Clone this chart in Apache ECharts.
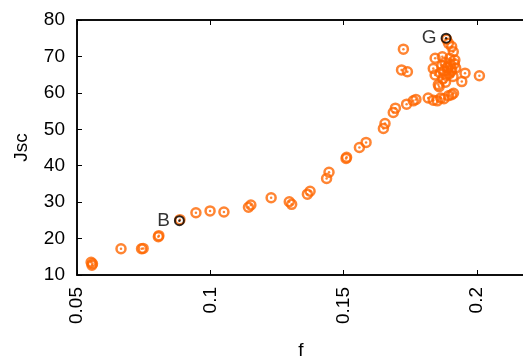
<!DOCTYPE html>
<html>
<head>
<meta charset="utf-8">
<script src="https://cdn.jsdelivr.net/npm/echarts@6/dist/echarts.min.js"></script>
<style>
html,body{margin:0;padding:0;background:#fff;}
#c{width:523px;height:360px;}
</style>
</head>
<body>
<div id="c"></div>
<script>
// f values and Jsc values for all samples (orange)
const fValues = [
  0.0553, 0.0556, 0.0558, 0.0665, 0.0742, 0.0748, 0.0805, 0.0807, 0.0886, 0.0946,
  0.0999, 0.1051, 0.1143, 0.1152, 0.1228, 0.1296, 0.1305, 0.1364, 0.1374, 0.1436,
  0.1445, 0.1509, 0.1511, 0.1559, 0.1584, 0.1649, 0.1655, 0.1686, 0.1694, 0.1736,
  0.1761, 0.1771, 0.1817, 0.1836, 0.1851, 0.1864, 0.1876, 0.1893, 0.1905, 0.1912,
  0.1855, 0.1858, 0.1724, 0.1717, 0.1739, 0.1886, 0.1893, 0.1905, 0.1911, 0.1843,
  0.1917, 0.1955, 0.2009, 0.1943, 0.1836, 0.1843, 0.1862, 0.1868, 0.1875, 0.1880,
  0.1885, 0.1890, 0.1895, 0.1900, 0.1905, 0.1910, 0.1915, 0.1920, 0.1872, 0.1882,
  0.1898, 0.1870, 0.1888, 0.1902
];
const jscValues = [
  13.5, 12.7, 13.1, 17.2, 17.2, 17.3, 20.5, 20.8, 25.2, 27.1,
  27.6, 27.3, 28.6, 29.2, 31.2, 30.1, 29.4, 32.2, 33.0, 36.5,
  38.2, 42.0, 42.3, 45.0, 46.4, 50.2, 51.6, 54.6, 55.8, 56.9,
  57.8, 58.2, 58.6, 58.0, 57.8, 58.6, 58.4, 59.2, 59.5, 59.9,
  62.2, 61.7, 72.0, 66.3, 65.8, 74.7, 73.6, 72.7, 71.3, 69.5,
  69.0, 65.4, 64.7, 63.1, 66.7, 64.9, 65.5, 67.5, 66.0, 68.3,
  64.8, 66.9, 65.2, 67.8, 66.3, 64.5, 68.0, 66.8, 63.9, 62.9,
  69.5, 69.9, 67.0, 65.8
];
// highlighted points
const markNames = ['B', 'G'];
const markF = [0.0884, 0.1884];
const markJ = [24.9, 75.0];
// axes
const xMin = 0.05, xMax = 0.2180, xStep = 0.05;
const yMin = 10, yMax = 80, yStep = 10;

const orange = '#ff6600';
const pts = fValues.map((f, i) => [f, jscValues[i]]);
const marks = markF.map((f, i) => ({ value: [f, markJ[i]], name: markNames[i] }));
const font = 'Liberation Sans, Arial, sans-serif';

const chart = echarts.init(document.getElementById('c'), null, { renderer: 'canvas' });
chart.setOption({
  animation: false,
  backgroundColor: '#fff',
  grid: { left: 77, top: 20, bottom: 85, right: -2, outerBoundsMode: 'none', containLabel: false,
    show: true, borderColor: '#000', borderWidth: 1.5 },
  xAxis: [{
    type: 'value', min: xMin, max: xMax, interval: xStep, position: 'bottom',
    name: 'f', nameLocation: 'middle', nameGap: 66,
    nameTextStyle: { fontFamily: font, fontSize: 19, color: '#000' },
    axisLine: { show: true, onZero: false, lineStyle: { color: '#000', width: 1.5 } },
    axisTick: { show: true, inside: true, length: 5, lineStyle: { color: '#000', width: 1 } },
    axisLabel: { rotate: 90, margin: 12, fontFamily: font, fontSize: 19, color: '#000', showMaxLabel: false,
      formatter: v => String(+v.toFixed(2)) },
    splitLine: { show: false }
  }, {
    type: 'value', min: xMin, max: xMax, interval: xStep, position: 'top',
    axisLine: { show: true, onZero: false, lineStyle: { color: '#000', width: 1.5 } },
    axisTick: { show: true, inside: true, length: 5, lineStyle: { color: '#000', width: 1 } },
    axisLabel: { show: false },
    splitLine: { show: false }
  }],
  yAxis: [{
    type: 'value', min: yMin, max: yMax, interval: yStep,
    name: 'Jsc', nameLocation: 'middle', nameGap: 46, nameRotate: 90,
    nameTextStyle: { fontFamily: font, fontSize: 19, color: '#000' },
    axisLine: { show: true, onZero: false, lineStyle: { color: '#000', width: 1.5 } },
    axisTick: { show: true, inside: true, length: 5, lineStyle: { color: '#000', width: 1 } },
    axisLabel: { margin: 12, fontFamily: font, fontSize: 19, color: '#000' },
    splitLine: { show: false }
  }],
  series: [
    { type: 'scatter', data: pts, symbol: 'circle', symbolSize: 9,
      itemStyle: { color: 'rgba(0,0,0,0)', borderColor: orange, borderWidth: 2.5 }, z: 2 },
    { type: 'scatter', data: pts, symbol: 'circle', symbolSize: 2.5,
      itemStyle: { color: orange }, z: 3 },
    { type: 'scatter', data: marks, symbol: 'circle', symbolSize: 9,
      itemStyle: { color: 'rgba(0,0,0,0)', borderColor: '#000', borderWidth: 2 }, z: 4,
      label: { show: true, position: 'left', distance: 4, formatter: p => p.name,
        fontFamily: font, fontSize: 19, color: '#000' } },
    { type: 'scatter', data: marks, symbol: 'circle', symbolSize: 2.5,
      itemStyle: { color: '#000' }, z: 5 }
  ]
});
</script>
</body>
</html>
